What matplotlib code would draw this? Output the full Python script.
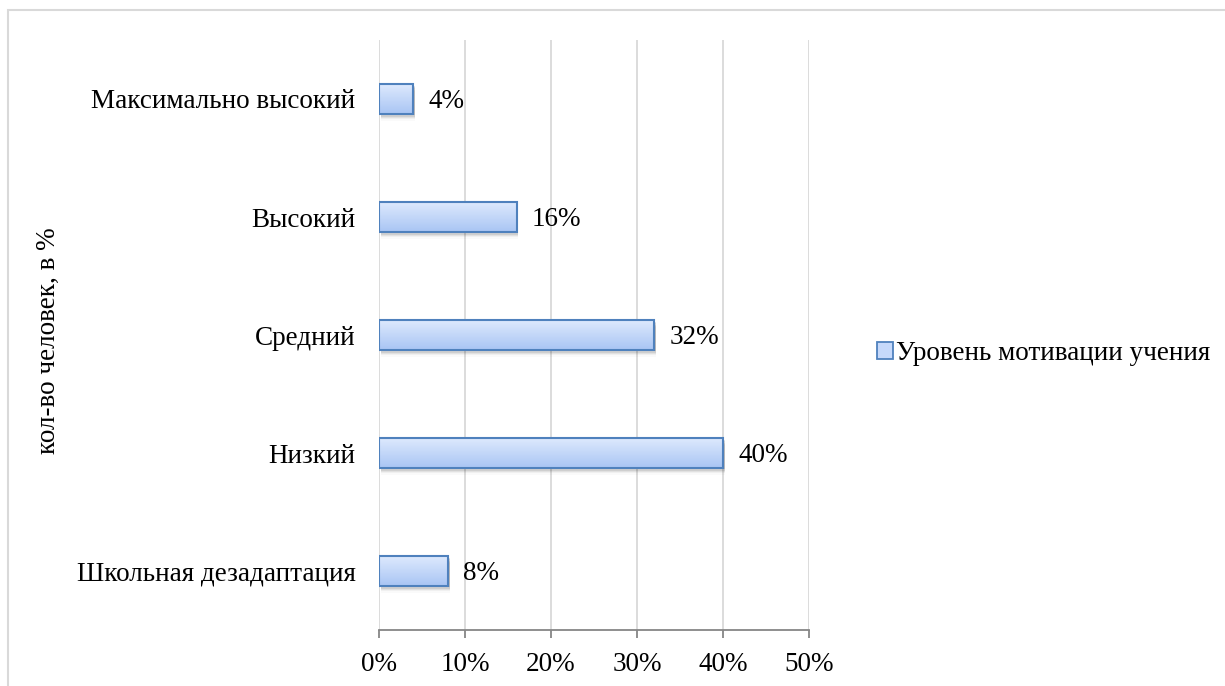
import matplotlib.pyplot as plt
import numpy as np
from matplotlib.colors import LinearSegmentedColormap
from matplotlib.patches import Rectangle, Patch
from matplotlib.ticker import FuncFormatter

plt.rcParams['font.family'] = ['Liberation Serif', 'DejaVu Serif']

categories = ["Школьная дезадаптация", "Низкий", "Средний", "Высокий", "Максимально высокий"]
values = [8, 40, 32, 16, 4]
series_name = "Уровень мотивации учения"

edge = '#4f81bd'
grad = LinearSegmentedColormap.from_list('bar', ['#a9c5f4', '#dde9fd'])
fs = 19.5

fig = plt.figure(figsize=(12.25, 6.86), dpi=100)
ax = fig.add_axes([0.3094, 0.0816, 0.3510, 0.8601])

# light frame around the chart area
fig.patches.append(Rectangle((8 / 1225, -0.1), 1.2, 1 - 10 / 686 + 0.1,
                             transform=fig.transFigure, fill=False,
                             edgecolor='#d9d9d9', linewidth=1.5))

h = 0.25
pos = np.arange(len(categories))
g = np.linspace(0, 1, 64).reshape(-1, 1)
for y, v in zip(pos, values):
    # soft shadow under each bar
    for k, a in zip(range(1, 6), [0.10, 0.08, 0.06, 0.04, 0.02]):
        ax.add_patch(Rectangle((0.2, y - h / 2 - k * 0.012), v, h, facecolor='black',
                               alpha=a, edgecolor='none', zorder=2))
    ax.imshow(g, cmap=grad, aspect='auto', extent=(0, v, y - h / 2, y + h / 2),
              origin='lower', zorder=3)
    ax.add_patch(Rectangle((0, y - h / 2), v, h, facecolor='none', edgecolor=edge,
                           linewidth=1.5, zorder=4))
    ax.text(v + 1.8, y - 0.02, f"{v}%", va='center', ha='left', fontsize=fs, zorder=5)

ax.set_xlim(0, 50)
ax.set_ylim(-0.5, len(categories) - 0.5)
ax.set_xticks(range(0, 51, 10))
ax.xaxis.set_major_formatter(FuncFormatter(lambda x, _: f"{x:.0f}%"))
ax.set_yticks(pos)
ax.set_yticklabels(categories)
ax.grid(axis='x', color='#d9d9d9', linewidth=1.3, zorder=0)
ax.set_axisbelow(True)
for s in ['top', 'right', 'left']:
    ax.spines[s].set_visible(False)
ax.spines['bottom'].set_color('#868686')
ax.spines['bottom'].set_linewidth(1.3)
ax.tick_params(axis='x', colors='#868686', length=6, width=1.3, labelcolor='black',
               labelsize=fs, pad=10)
ax.tick_params(axis='y', length=0, labelsize=fs, pad=17)
ax.set_ylabel("кол-во человек, в %", fontsize=fs)
ax.yaxis.set_label_coords(-0.74, 0.49)

handle = Patch(facecolor='#c6d9fb', edgecolor=edge, linewidth=1.3)
fig.legend([handle], [series_name], loc='center left', bbox_to_anchor=(0.696, 0.485),
           frameon=False, fontsize=fs, handlelength=0.6, handleheight=0.6,
           handletextpad=0.1)

fig.savefig("out.png", dpi=100)
